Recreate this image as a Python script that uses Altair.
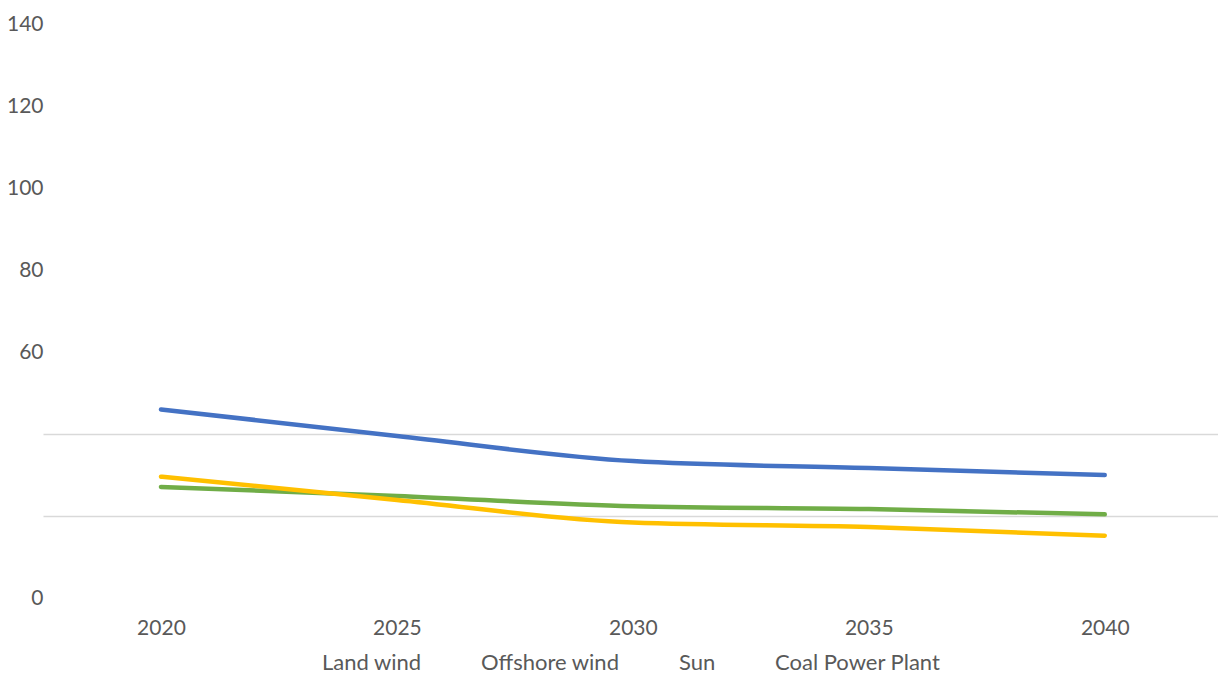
import altair as alt
import pandas as pd

# Cost outlook per technology (years on x, value on y)
years = [2020, 2025, 2030, 2035, 2040]
land_wind = [46.0, 39.5, 33.4, 31.7, 30.0]
offshore_wind = [27.1, 24.9, 22.4, 21.7, 20.4]
sun = [29.6, 23.9, 18.4, 17.3, 15.2]
coal_power_plant = []

series_names = ["Land wind", "Offshore wind", "Sun", "Coal Power Plant"]
series_colors = ["#4472C4", "#70AD47", "#FFC000", "#A5A5A5"]
y_ticks = [0, 20, 40, 60, 80, 100, 120, 140]

rows = []
for name, vals in zip(series_names, [land_wind, offshore_wind, sun, coal_power_plant]):
    for yr, v in zip(years, vals):
        rows.append({"year": yr, "series": name, "value": v})
df = pd.DataFrame(rows)

text_color = "#595959"
font = "Lato"

chart = (
    alt.Chart(df)
    .mark_line(strokeWidth=4.5, strokeCap="round", interpolate="monotone")
    .encode(
        x=alt.X(
            "year:Q",
            scale=alt.Scale(domain=[2017.5, 2042.4], nice=False, zero=False),
            axis=alt.Axis(
                values=years,
                format="d",
                grid=False,
                domain=False,
                ticks=False,
                labelPadding=19,
                labelFont=font,
                labelFontSize=21,
                labelColor=text_color,
                title=None,
            ),
        ),
        y=alt.Y(
            "value:Q",
            scale=alt.Scale(domain=[0, 140], nice=False),
            axis=alt.Axis(
                values=y_ticks,
                labelExpr="datum.value == 20 || datum.value == 40 ? '' : datum.label",
                grid=True,
                gridColor="#d9d9d9",
                gridWidth=1.5,
                gridOpacity={
                    "condition": {"test": "datum.value == 20 || datum.value == 40", "value": 1},
                    "value": 0,
                },
                domain=False,
                ticks=False,
                labelPadding=0,
                labelFont=font,
                labelFontSize=21,
                labelColor=text_color,
                title=None,
            ),
        ),
        color=alt.Color(
            "series:N",
            sort=series_names,
            scale=alt.Scale(domain=series_names, range=series_colors),
            legend=alt.Legend(
                orient="none",
                direction="horizontal",
                legendX=257,
                legendY=628,
                title=None,
                symbolOpacity=0,
                symbolStrokeWidth=0,
                symbolSize=1,
                labelOffset=0,
                labelLimit=400,
                columnPadding=37,
                labelFont=font,
                labelFontSize=22,
                labelColor=text_color,
            ),
        ),
    )
    .properties(
        width=1175,
        height=574,
        autosize="none",
        padding={"left": 43, "top": 24, "right": 0, "bottom": 90},
    )
    .configure_view(stroke=None)
)

chart.save("out.html", embed_options={"renderer": "svg", "actions": False})
